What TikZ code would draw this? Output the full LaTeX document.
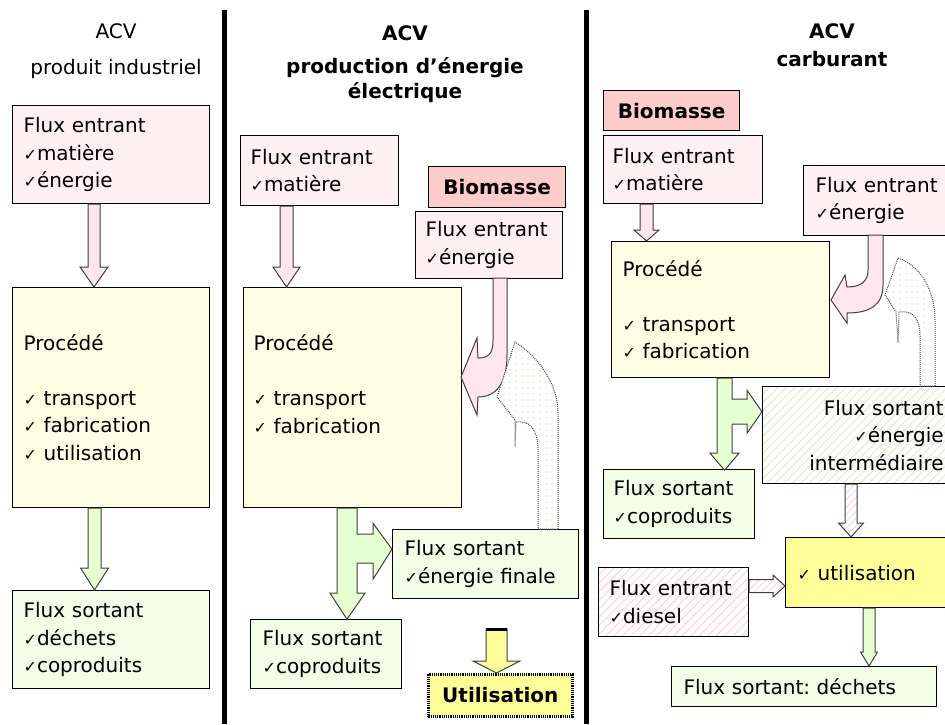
\documentclass[tikz,border=0pt]{standalone}
\usepackage{fontspec}
\setmainfont{DejaVu Sans}
\usetikzlibrary{calc,patterns.meta}
\definecolor{pinkbox}{HTML}{FFF0F4}
\definecolor{biofill}{HTML}{FFCCCC}
\definecolor{procfill}{HTML}{FFFFE6}
\definecolor{greenbox}{HTML}{F2FFE6}
\definecolor{yellowbox}{HTML}{FFFF99}
\definecolor{pinkarrow}{HTML}{FFE6EE}
\definecolor{greenarrow}{HTML}{E6FFD2}
\definecolor{pinkstripe}{HTML}{FFD6E0}
\definecolor{greenstripe}{HTML}{DDF2C8}
\definecolor{dotgreen}{HTML}{9EE080}
\newcommand\ck{{\fontsize{16}{16}\selectfont ✓}}
\newcommand\txt{\fontsize{20}{27.5}\selectfont}
\newcommand\vblock[6]{\path[#1] let \p1=#2, \p2=#3 in (\x1-#4pt,\y1) -- (\x1-#4pt,\y2+#6pt) -- (\x1-#5pt,\y2+#6pt) -- (\x1,\y2) -- (\x1+#5pt,\y2+#6pt) -- (\x1+#4pt,\y2+#6pt) -- (\x1+#4pt,\y1) -- cycle;}
\newcommand\hblock[6]{\path[#1] let \p1=#2, \p2=#3 in (\x1,\y1+#4pt) -- (\x2-#6pt,\y1+#4pt) -- (\x2-#6pt,\y1+#5pt) -- (\x2,\y1) -- (\x2-#6pt,\y1-#5pt) -- (\x2-#6pt,\y1-#4pt) -- (\x1,\y1-#4pt) -- cycle;}
\begin{document}
\begin{tikzpicture}[x=1pt,y=-1pt,
  box/.style={draw=black, line width=1.2pt, anchor=north west, inner xsep=11pt, inner ysep=0pt, align=left, font=\txt},
  pinkb/.style={box, fill=pinkbox},
  procb/.style={box, fill=procfill},
  greenb/.style={box, fill=greenbox},
  biob/.style={box, fill=biofill, align=center, font=\txt\bfseries},
  stripebox/.style={box, preaction={fill=white}, pattern={Lines[angle=45, distance=6pt, line width=1.2pt]}, pattern color=#1},
  titlenode/.style={anchor=north, inner sep=0pt, align=center, font=\fontsize{20}{25}\selectfont},
  parrow/.style={draw=black!75, line width=1pt, fill=pinkarrow, line join=miter},
  garrow/.style={draw=black!75, line width=1pt, fill=greenarrow, line join=miter},
  stripearrow/.style={draw=black!75, line width=1pt, preaction={fill=white}, pattern={Lines[angle=45, distance=5pt, line width=1pt]}, pattern color=#1},
  dotarrow/.style={draw=black!70, densely dotted, line width=1pt, preaction={fill=white}, pattern={Dots[distance=6pt, radius=0.7pt]}, pattern color=dotgreen},
  sep/.style={line width=5pt, draw=black}
]
\useasboundingbox (0,0) rectangle (945,724);
\fill[white] (0,0) rectangle (945,724);
\clip (0,0) rectangle (945,724);

% separators
\draw[sep] (224.5,10) -- (224.5,724);
\draw[sep] (586.5,10) -- (586.5,724);

% titles
\node[titlenode] (t1) at (116,23) {ACV\\[11pt]produit industriel};
\node[titlenode, font=\fontsize{20}{25}\selectfont\bfseries] (t2) at (405,25) {ACV\\[8pt]production d’énergie\\électrique};
\node[titlenode, font=\fontsize{20}{25}\selectfont\bfseries] (t3) at (832,23) {ACV\\[3pt]carburant};

% ---------- column 1 ----------
\node[pinkb, minimum width=197, minimum height=98, text width=175] (e1) at (12,105) {Flux~entrant\\\ck matière\\\ck énergie};
\node[procb, minimum width=197, minimum height=220, text width=175] (p1) at (12,287) {Procédé\\[27.5pt]\ck~transport\\\ck~fabrication\\\ck~utilisation};
\node[greenb, minimum width=197, minimum height=98, text width=175] (s1) at (12,590) {Flux~sortant\\\ck déchets\\\ck coproduits};
\vblock{parrow}{($(e1.south west)+(82,0)$)}{($(p1.north west)+(82,0)$)}{6}{14}{20}
\vblock{garrow}{($(p1.south west)+(82.5,0)$)}{($(s1.north west)+(82.5,0)$)}{6.5}{14}{22}

% ---------- column 2 ----------
\node[pinkb, minimum width=158, minimum height=70, text width=138, inner xsep=10pt] (e2) at (240,135) {Flux~entrant\\\ck matière};
\node[biob, minimum width=137, minimum height=41, text width=117, inner xsep=10pt] (b2) at (428,166) {Biomasse};
\node[pinkb, minimum width=147, minimum height=67, text width=127, inner xsep=10pt] (en2) at (415,211) {Flux~entrant\\\ck énergie};
\node[procb, minimum width=218, minimum height=220, text width=198, inner xsep=10pt] (p2) at (243,287) {Procédé\\[27.5pt]\ck~transport\\\ck~fabrication\\\mbox{}};
\node[greenb, minimum width=186, minimum height=69, text width=162, inner xsep=12pt] (f2) at (392,529) {Flux~sortant\\\ck énergie~finale};
\node[greenb, minimum width=151, minimum height=69, text width=127, inner xsep=12pt] (c2) at (250,619) {Flux~sortant\\\ck coproduits};
\node[box, fill=yellowbox, densely dotted, line width=2.6pt, align=center, font=\txt\bfseries, minimum width=144, minimum height=42, text width=124, inner xsep=10pt] (u2) at (427,673) {Utilisation};

\vblock{parrow}{($(e2.south west)+(46.5,0)$)}{($(p2.north west)+(43.5,0)$)}{6.5}{13.5}{20}
% curved pink arrow into procédé
\path[parrow] (507,278) -- (507,355) .. controls (507,385) and (495,397) .. (478,397) -- (477,415) -- (461,377) -- (477,338) -- (478,358) .. controls (490,358) and (493,352) .. (493,340) -- (493,278) -- cycle;
% dotted return arrow
\path[dotarrow] (558,529) -- (558,413) .. controls (558,385) and (540,358) .. (515,342) -- (497,397) -- (515,420) -- (515,447) -- (516,422) .. controls (530,420) and (538,430) .. (538,450) -- (538,529) -- cycle;
% T arrow out of procédé
\begin{scope}[shift={(p2.south west)}]
\path[garrow] (94,0) -- (94,85) -- (87,85) -- (104,111) -- (122,85) -- (114,85) -- (114,55) -- (130,55) -- (130,71) -- (149,41) -- (130,15) -- (130,26) -- (114,26) -- (114,0) -- cycle;
\end{scope}
% yellow arrow to Utilisation
\coordinate (ua) at (496.5,629);
\vblock{draw=black!75, line width=1pt, fill=yellowbox}{(ua)}{($(u2.north west)+(69.5,0)$)}{10.5}{23.5}{12}
\draw[line width=3pt] ($(ua)+(-10.5,0)$) -- ($(ua)+(10.5,0)$);

% ---------- column 3 ----------
\node[biob, minimum width=136, minimum height=40, text width=116, inner xsep=10pt] (b3) at (603,90) {Biomasse};
\node[pinkb, minimum width=159, minimum height=68, text width=141, inner xsep=9pt] (e3) at (603,135) {Flux~entrant\\\ck matière};
\node[pinkb, minimum width=157, minimum height=70, text width=133, inner xsep=12pt] (en3) at (803,165) {Flux~entrant\\\ck énergie};
\node[procb, minimum width=218, minimum height=136, text width=196, inner xsep=11pt] (p3) at (611,241) {Procédé\\[27.5pt]\ck~transport\\\ck~fabrication};
\node[stripebox=greenstripe, align=right, minimum width=193, minimum height=97, text width=169, inner xsep=12pt] (s3) at (762,386) {Flux~sortant\\\ck énergie\\intermédiaire};
\node[greenb, minimum width=151, minimum height=69, text width=131, inner xsep=10pt] (c3) at (603,469) {Flux~sortant\\\ck coproduits};
\node[box, fill=yellowbox, minimum width=177, minimum height=70, text width=153, inner xsep=12pt] (u3) at (785,537) {\ck~utilisation};
\node[stripebox=pinkstripe, minimum width=150, minimum height=69, text width=128, inner xsep=11pt] (d3) at (598,567) {Flux~entrant\\\ck diesel};
\node[greenb, minimum width=265, minimum height=40, text width=241, inner xsep=12pt] (w3) at (671,666) {Flux~sortant:~déchets};

\vblock{parrow}{($(e3.south west)+(43.5,0)$)}{($(p3.north west)+(35.5,0)$)}{6.5}{12.5}{11}
% curved pink arrow col 3
\path[parrow] (883,235) -- (883,285) .. controls (883,305) and (870,313) .. (847,313) -- (847,323) -- (831,300) -- (845,275) -- (847,287) .. controls (860,287) and (868,282) .. (868,270) -- (868,235) -- cycle;
% dotted return arrow col 3
\path[dotarrow] (935,386) -- (935,320) .. controls (935,290) and (920,265) .. (898,258) -- (885,295) -- (896,312) -- (898,343) -- (899,312) .. controls (912,310) and (920,318) .. (920,335) -- (920,386) -- cycle;
% T arrow col 3
\begin{scope}[shift={(p3.south west)}]
\path[garrow] (106,0) -- (106,75) -- (99,75) -- (113.5,92) -- (128,75) -- (121,75) -- (121,46) -- (136,46) -- (136,55) -- (151,33.5) -- (136,12) -- (136,21) -- (121,21) -- (121,0) -- cycle;
\end{scope}
\vblock{stripearrow=pinkstripe}{($(s3.south west)+(89,0)$)}{($(u3.north west)+(66,0)$)}{6}{12.5}{14}
\vblock{garrow}{($(u3.south west)+(84,0)$)}{($(w3.north west)+(198,0)$)}{6}{8.5}{14}
\hblock{stripearrow=pinkstripe}{($(d3.north east)+(0,19)$)}{($(u3.north west)+(0,49)$)}{6.5}{11}{12}
\end{tikzpicture}
\end{document}
